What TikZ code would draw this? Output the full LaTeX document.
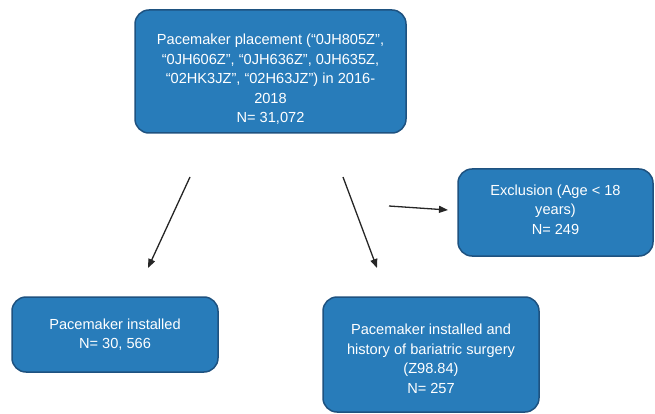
\documentclass[tikz,border=0pt]{standalone}
\usepackage{fontspec}
\setmainfont{Liberation Sans}
\usetikzlibrary{arrows.meta}
\definecolor{boxblue}{RGB}{40,124,186}
\definecolor{boxedge}{RGB}{30,82,128}
% lines of a box, first baseline raised by #1 above the box centre
\newcommand{\boxtext}[2]{\raisebox{#1}[0pt][0pt]{\begin{tabular}[t]{@{}c@{}}#2\end{tabular}}}

\begin{document}
\begin{tikzpicture}[x=1pt, y=-1pt,
    arr/.style={-{Triangle[length=9pt,width=7pt]}, line width=1.3pt, black!85},
    box/.style={draw=boxedge, line width=1.5pt, fill=boxblue, rounded corners=14pt,
                text=white, inner sep=0pt,
                font=\fontsize{14.6}{19.5}\selectfont}
]
    \useasboundingbox (0,0) rectangle (655,414);
    % boxes
    \node[box, minimum width=271pt, minimum height=123pt] (place) at (270.5,71.5)
        {\boxtext{26.5pt}{Pacemaker placement (“0JH805Z”,\\“0JH606Z”, “0JH636Z”, 0JH635Z,\\“02HK3JZ”, “02H63JZ”) in 2016-\\2018\\N= 31,072}};
    \node[box, minimum width=195pt, minimum height=87pt] (excl) at (555.5,212.5)
        {\boxtext{17.5pt}{Exclusion (Age < 18\\years)\\N= 249}};
    \node[box, minimum width=206pt, minimum height=75pt] (inst) at (115,334.5)
        {\boxtext{5.5pt}{Pacemaker installed\\N= 30, 566}};
    \node[box, minimum width=216pt, minimum height=115pt] (bari) at (431,354.5)
        {\boxtext{20pt}{Pacemaker installed and\\history of bariatric surgery\\(Z98.84)\\N= 257}};
    % free arrow ends
    \coordinate (l1) at (190,177);
    \coordinate (l2) at (148,268);
    \coordinate (r1) at (343,177);
    \coordinate (r2) at (377,268);
    \coordinate (e1) at (389,206);
    \coordinate (e2) at (448,210);
    \draw[arr] (l1) -- (l2);
    \draw[arr] (r1) -- (r2);
    \draw[arr] (e1) -- (e2);
\end{tikzpicture}
\end{document}
